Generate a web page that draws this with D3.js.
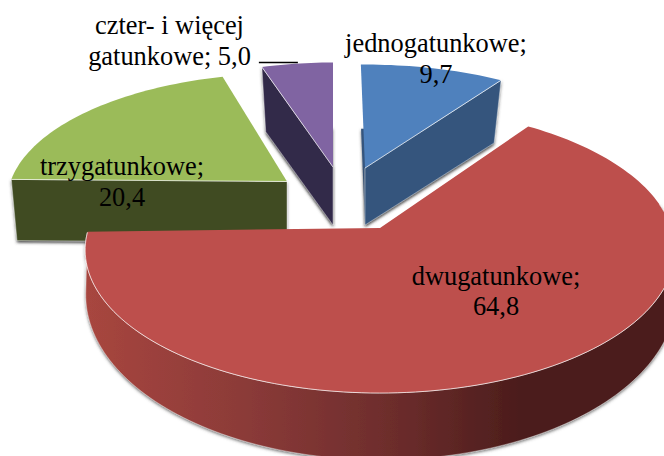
<!DOCTYPE html>
<html><head><meta charset="utf-8">
<script src="https://cdnjs.cloudflare.com/ajax/libs/d3/7.8.5/d3.min.js"></script>
<style>html,body{margin:0;padding:0;background:#fff}svg{display:block}</style>
</head><body><div id="c"></div>
<script>
const categories = ["jednogatunkowe", "dwugatunkowe", "trzygatunkowe", "czter- i więcej gatunkowe"];
const values = [9.7, 64.8, 20.4, 5.0];
const valueLabels = ["9,7", "64,8", "20,4", "5,0"];
const labelLines = [
  ["jednogatunkowe;", "9,7"],
  ["dwugatunkowe;", "64,8"],
  ["trzygatunkowe;", "20,4"],
  ["czter- i więcej", "gatunkowe; 5,0"]
];
const topColors = ["#4f81bd", "#bd4f4c", "#9bbb59", "#8064a2"];
const wallColors = ["#34557d", "url(#redWall)", "#3f4b22", "#33294a"];

const W = 664, H = 456;
const top3d = {rx: 291.3, ry: 139.6, p: 0.154};
const bot3d = {rx: 285.5, ry: 134.8, p: 0.198};
const botFront = {rx: 295, ry: 164.7, p: 0.042};
// per-slice placement, indexed like categories
const place = [
  {x: 365, y: 168, sx: 0.943, sy: 0.855, rot: -1,  depth: 57, cut: "end", bot: bot3d, bx: 0},
  {x: 380, y: 228, sx: 1,     sy: 1,     rot: 0,   depth: 60, wall: [80, 268.2], bot: botFront, bx: 1},
  {x: 287, y: 181.5, sx: 0.949, sy: 0.894, rot: 2.5, depth: 61, cut: "start", bot: bot3d, bx: 0},
  {x: 333, y: 167, sx: 0.905, sy: 0.864, rot: 0,   depth: 58, cut: "start", bot: bot3d, bx: 0}
];
const labelPos = [
  {x: 436, y: 52, dy: 31},
  {x: 496, y: 285, dy: 30},
  {x: 122, y: 175, dy: 31},
  {x: 169.5, y: 34, dy: 31}
];
const drawOrder = [2, 3, 0, 1];

const svg = d3.select("#c").append("svg").attr("width", W).attr("height", H)
  .style("font-family", "'Liberation Serif','Times New Roman',serif");
const defs = svg.append("defs");
const grad = defs.append("linearGradient").attr("id", "redWall")
  .attr("gradientUnits", "userSpaceOnUse").attr("x1", 85).attr("x2", 664).attr("y1", 0).attr("y2", 0);
[[0, "#a8463f"], [0.285, "#8a3a38"], [0.544, "#6b2c2b"], [0.75, "#4c1d1c"], [1, "#4c1d1c"]]
  .forEach(s => grad.append("stop").attr("offset", s[0]).attr("stop-color", s[1]));
const f = defs.append("filter").attr("id", "sh").attr("x", "-15%").attr("y", "-15%").attr("width", "130%").attr("height", "130%");
f.append("feDropShadow").attr("dx", 0).attr("dy", 1.5).attr("stdDeviation", 1.8)
  .attr("flood-color", "#444").attr("flood-opacity", 0.75);

const pie = d3.pie().sort(null).value(d => d);
const arcs = pie(values);
const line = d3.line().x(d => d[0]).y(d => d[1]);
const rad = Math.PI / 180;

function pt(plane, pl, a, r, dy, bx) {
  const w = 1 + plane.p * r * Math.cos(a);
  return [pl.x + (bx || 0) + plane.rx * pl.sx * r * Math.sin(a) / w,
          pl.y + dy - plane.ry * pl.sy * r * Math.cos(a) / w];
}
function rim(plane, pl, a0, a1, dy, bx) {
  const n = Math.max(2, Math.ceil(Math.abs(a1 - a0) / (rad * 1.5)));
  return d3.range(n + 1).map(i => pt(plane, pl, a0 + (a1 - a0) * i / n, 1, dy, bx));
}

drawOrder.forEach(i => {
  const pl = place[i], a = arcs[i], R = pl.rot * rad;
  const a0 = a.startAngle + R, a1 = a.endAngle + R;
  const g = svg.append("g").attr("class", "slice");
  const apexT = pt(top3d, pl, 0, 0, 0), apexB = pt(pl.bot, pl, 0, 0, pl.depth, pl.bx);
  let wall, edge;
  if (pl.cut) {
    const c = pl.cut === "end" ? a1 : a0;
    const tp = pt(top3d, pl, c, 1, 0), bt = pt(pl.bot, pl, c, 1, pl.depth, pl.bx);
    wall = [apexT, tp, bt, apexB];
    edge = [apexT, tp];
    // underside of the slice, only its soft shadow shows past the walls
    g.append("path").attr("d", line([apexB].concat(rim(pl.bot, pl, a0, a1, pl.depth, pl.bx))) + "Z")
      .attr("fill", wallColors[i]).attr("filter", "url(#sh)");
  } else {
    const w0 = pl.wall[0] * rad, w1 = pl.wall[1] * rad;
    const t = rim(top3d, pl, w0, w1, 0), b = rim(pl.bot, pl, w0, w1, pl.depth, pl.bx);
    wall = t.concat(b.reverse());
    edge = t;
  }
  g.append("path").attr("d", line(wall) + "Z").attr("fill", wallColors[i]).attr("filter", "url(#sh)")
    .attr("stroke", "#fff").attr("stroke-opacity", 0.55).attr("stroke-width", 0.7);
  const face = [apexT].concat(rim(top3d, pl, a0, a1, 0));
  g.append("path").attr("d", line(face) + "Z").attr("fill", topColors[i]);
  g.append("path").attr("d", line(edge)).attr("fill", "none").attr("stroke", "#fff")
    .attr("stroke-opacity", 0.65).attr("stroke-width", 1);
});

labelLines.forEach((lines, i) => {
  const p = labelPos[i];
  const t = svg.append("text").attr("text-anchor", "middle").attr("font-size", 26.4).attr("fill", "#000");
  lines.forEach((s, j) => t.append("tspan").attr("x", p.x).attr("y", p.y + j * p.dy).text(s));
});
// leader line from the small slice to its label
const lead = pt(top3d, place[3], arcs[3].startAngle, 1, 0);
svg.append("line").attr("x1", lead[0] - 3).attr("x2", lead[0] + 36)
  .attr("y1", lead[1] - 4.5).attr("y2", lead[1] - 4.5).attr("stroke", "#000").attr("stroke-width", 1.6);
</script></body></html>
